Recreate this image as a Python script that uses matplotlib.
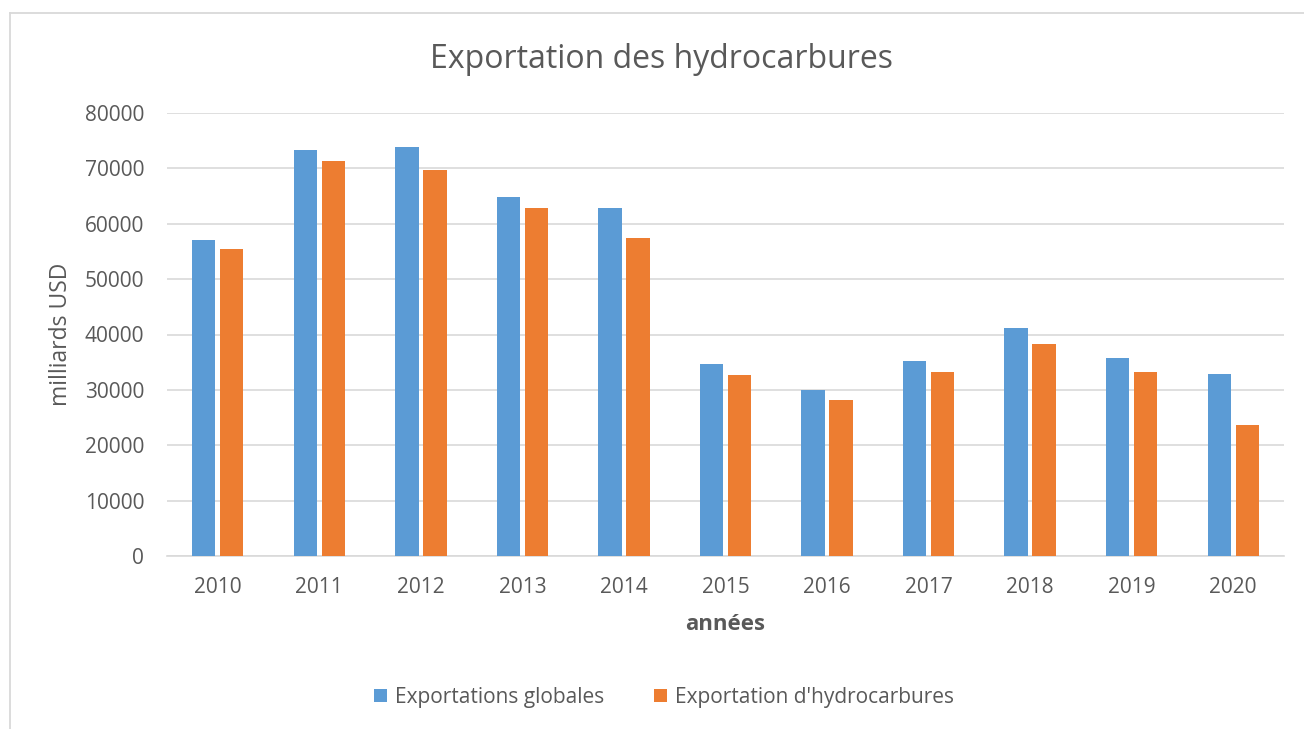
import numpy as np
import matplotlib.pyplot as plt
from matplotlib.lines import Line2D

plt.rcParams['font.family'] = ['Open Sans', 'DejaVu Sans']

# Data
years = ['2010', '2011', '2012', '2013', '2014', '2015', '2016', '2017', '2018', '2019', '2020']
exports_total = [57000, 73400, 73900, 64900, 62800, 34700, 30000, 35200, 41100, 35800, 32800]
exports_hydro = [55500, 71400, 69700, 62900, 57400, 32700, 28200, 33200, 38300, 33200, 23600]

blue = '#5B9BD5'
orange = '#ED7D31'
text_col = '#595959'

fig = plt.figure(figsize=(13.04, 7.29), dpi=100)
ax = fig.add_axes([167 / 1304, 1 - 556 / 729, (1284 - 167) / 1304, (556 - 113) / 729])

x = np.arange(len(years))
w = 0.23
ax.bar(x - 0.138, exports_total, width=w, color=blue, label='Exportations globales', zorder=3)
ax.bar(x + 0.138, exports_hydro, width=w, color=orange, label="Exportation d'hydrocarbures", zorder=3)

ax.set_xlim(-0.5, len(years) - 0.5)
ax.set_ylim(0, 80000)
ax.set_yticks(np.arange(0, 80001, 10000))
ax.set_xticks(x)
ax.set_xticklabels(years)

ax.grid(axis='y', color='#d9d9d9', linewidth=1.2, zorder=0)
for s in ['left', 'right', 'top']:
    ax.spines[s].set_visible(False)
ax.spines['bottom'].set_color('#d9d9d9')
ax.spines['bottom'].set_linewidth(1.2)
ax.tick_params(axis='both', length=0, labelsize=15, colors=text_col)
ax.tick_params(axis='x', pad=15)
ax.tick_params(axis='y', pad=16.5)

ax.set_ylabel('milliards USD', fontsize=16.5, color=text_col, labelpad=8)
ax.set_xlabel('années', fontsize=16, color=text_col, fontweight='bold', labelpad=12)

fig.text(662 / 1304, 1 - 60 / 729, 'Exportation des hydrocarbures', ha='center', va='center',
         fontsize=23, color=text_col)

fig.legend(loc='center', bbox_to_anchor=(664 / 1304, 1 - 697 / 729), ncol=2, frameon=False,
           fontsize=15, handlelength=0.6, handleheight=0.6, columnspacing=2.4,
           handletextpad=0.4, labelcolor=text_col)

# chart frame: only top and left edges visible
fig.add_artist(Line2D([10 / 1304, 1], [1 - 13 / 729, 1 - 13 / 729], transform=fig.transFigure,
                      color='#d9d9d9', linewidth=1.3))
fig.add_artist(Line2D([10 / 1304, 10 / 1304], [0, 1 - 13 / 729], transform=fig.transFigure,
                      color='#d9d9d9', linewidth=1.3))

fig.savefig('out.png', dpi=100, facecolor='white')
